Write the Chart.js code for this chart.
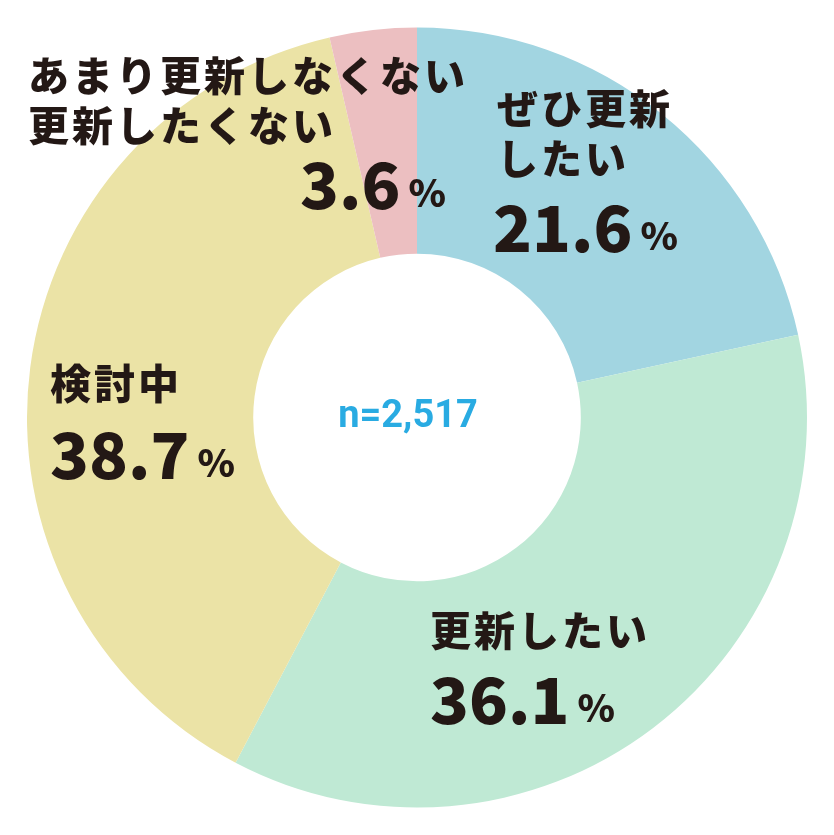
<!DOCTYPE html>
<html><head><meta charset="utf-8">
<script src="https://cdn.jsdelivr.net/npm/chart.js@4"></script>
<style>html,body{margin:0;padding:0;background:#fff}#w{width:834px;height:835px}</style>
</head><body><div id="w"><canvas id="c"></canvas></div>
<script>
const categories=["ぜひ更新したい","更新したい","検討中","あまり更新しなくない更新したくない"];
const values=[21.6,36.1,38.7,3.6];
const colors=["#a2d5e1","#bfe9d4","#ebe3a6","#ecbfc1"];
const labelLines=[["ぜひ更新","したい"],["更新したい"],["検討中"],["あまり更新しなくない","更新したくない"]];
const labelPos=[[497,108,493,228],[430,630,430,700],[50,383,50,455],[28,75,300,185]];
const F='"Noto Sans CJK JP",sans-serif';
const lbl={id:'lbl',afterDraw(ch){const c=ch.ctx;c.save();c.fillStyle='#231815';c.textBaseline='middle';
labelLines.forEach((ls,i)=>{const p=labelPos[i];c.font='900 41px '+F;c.letterSpacing='3px';ls.forEach((t,j)=>c.fillText(t,p[0],p[1]+j*50));
c.letterSpacing='0px';
const num=values[i].toFixed(1);c.font='900 64px '+F;c.fillText(num,p[2],p[3]);const w=c.measureText(num).width;c.font='900 38px '+F;c.fillText('%',p[2]+w+8,p[3]+8);});
c.fillStyle='#29abe2';c.font='bold 38px Roboto,sans-serif';c.textAlign='center';c.fillText('n=2,517',408,417);c.restore();}};
new Chart(document.getElementById('c'),{type:'doughnut',data:{labels:categories,datasets:[{data:values,backgroundColor:colors,borderWidth:0}]},
options:{responsive:true,maintainAspectRatio:false,animation:false,cutout:'42%',layout:{padding:27},plugins:{legend:{display:false},tooltip:{enabled:false}}},plugins:[lbl]});
</script></body></html>
